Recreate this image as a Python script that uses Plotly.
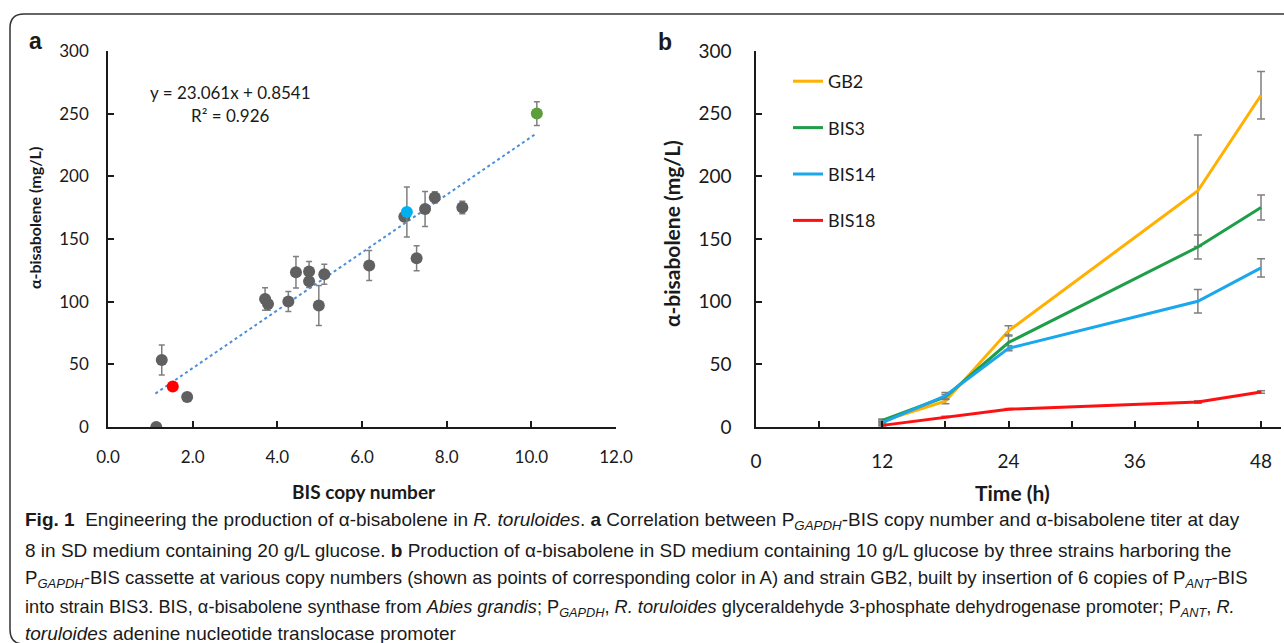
import plotly.graph_objects as go

W, H = 1284, 643

# ---------------- Panel a data ----------------
copy_gray = [1.14, 1.27, 1.87, 3.71, 3.78, 4.26, 4.44, 4.75, 4.75, 4.98, 5.11, 6.17, 7.00, 7.29, 7.49, 7.72, 8.37]
titer_gray = [0, 53.4, 23.9, 102.2, 98.2, 100.1, 123.5, 124.0, 116.3, 96.9, 121.9, 128.8, 167.8, 134.6, 173.9, 183.2, 175.2]
err_gray = [0, 12, 0, 9, 5, 8, 12.5, 8, 5, 16, 8, 12, 3, 10, 14, 4.5, 5]

copy_bis18, titer_bis18, err_bis18 = [1.53], [32.4], [0]
copy_bis14, titer_bis14, err_bis14 = [7.06], [171.5], [20]
copy_bis3, titer_bis3, err_bis3 = [10.13], [250.1], [9.5]

slope, intercept = 23.061, 0.8541
trend_x = [1.12, 10.13]
trend_y = [slope * x + intercept for x in trend_x]

# ---------------- Panel b data ----------------
time_h = [12, 18, 24, 42, 48]
gb2 = [4.8, 20.6, 76.7, 188.5, 264.7]
gb2_err = [1, 2, 4, 44.5, 19]
bis3 = [5.3, 24.0, 67.4, 143.6, 175.1]
bis3_err = [1, 2, 6, 9.5, 10]
bis14 = [3.5, 24.9, 62.8, 100.3, 127.0]
bis14_err = [1, 2.6, 2, 9.4, 7.3]
bis18 = [1.3, 8.0, 14.2, 20.0, 28.0]
bis18_err = [0.5, 0.5, 0.5, 1, 1]

xticks_a = [0, 2, 4, 6, 8, 10, 12]
yticks = [0, 50, 100, 150, 200, 250, 300]
xticks_b = [0, 12, 24, 36, 48]


def px(x):
    return x / W


def py(y):
    return 1 - y / H


GRAY = "#606060"
ERRC = "#7f7f7f"
FAM = "Lato, Open Sans, sans-serif"
TICKFONT_A = dict(family=FAM, size=17, color="#1a1a1a")
TICKFONT_B = dict(family=FAM, size=19, color="#1a1a1a")

fig = go.Figure()

# trendline
fig.add_trace(go.Scatter(x=trend_x, y=trend_y, mode="lines",
                         line=dict(color="#4A8FDA", width=2, dash="dot"),
                         xaxis="x", yaxis="y", showlegend=False, hoverinfo="skip"))


def pts(x, y, e, color):
    return go.Scatter(x=x, y=y, mode="markers",
                      marker=dict(color=color, size=12),
                      error_y=dict(type="data", array=e, color=ERRC, thickness=1.5, width=3),
                      xaxis="x", yaxis="y", showlegend=False)


fig.add_trace(pts(copy_gray, titer_gray, err_gray, GRAY))
fig.add_trace(pts(copy_bis18, titer_bis18, err_bis18, "#FF0000"))
fig.add_trace(pts(copy_bis14, titer_bis14, err_bis14, "#00B0F0"))
fig.add_trace(pts(copy_bis3, titer_bis3, err_bis3, "#5C9E3A"))

series_b = [("GB2", gb2, gb2_err, "#FFB000"),
            ("BIS3", bis3, bis3_err, "#1E9E48"),
            ("BIS14", bis14, bis14_err, "#1AA7EC"),
            ("BIS18", bis18, bis18_err, "#FF1010")]
for name, vals, errs, col in series_b:
    fig.add_trace(go.Scatter(x=time_h, y=vals, mode="lines", name=name, legendgroup=name,
                             line=dict(color=col, width=3),
                             error_y=dict(type="data", array=errs, color=ERRC, thickness=1.5, width=4),
                             xaxis="x2", yaxis="y2"))

axis_common = dict(showgrid=False, zeroline=False, showline=True, linecolor="#1a1a1a",
                   linewidth=1.5, ticks="inside", ticklen=6, tickcolor="#1a1a1a",
                   tickwidth=1.5, automargin=False)

fig.update_layout(
    width=W, height=H,
    margin=dict(l=0, r=0, t=0, b=0, pad=0, autoexpand=False),
    paper_bgcolor="white", plot_bgcolor="white",
    xaxis=dict(domain=[px(108), px(616)], range=[0, 12], tickvals=xticks_a,
               tickformat=".1f", anchor="y", ticklabelstandoff=14, tickfont=TICKFONT_A, **axis_common),
    yaxis=dict(domain=[py(427), py(51)], range=[0, 300], tickvals=yticks,
               anchor="x", ticklabelstandoff=14, tickfont=TICKFONT_A, **axis_common),
    xaxis2=dict(domain=[px(756), px(1281)], range=[0, 49.9], tickvals=xticks_b,
                anchor="y2", ticklabelstandoff=16, tickfont=TICKFONT_B,
                minor=dict(dtick=6, tick0=0, ticks="inside", ticklen=6, tickcolor="#1a1a1a",
                           tickwidth=1.5, showgrid=False),
                **axis_common),
    yaxis2=dict(domain=[py(427), py(51)], range=[0, 300], tickvals=yticks,
                anchor="x2", ticklabelstandoff=19, tickfont=TICKFONT_B, **axis_common),
    legend=dict(x=px(788), y=py(63), xanchor="left", yanchor="top",
                font=dict(family=FAM, size=18, color="#1a1a1a"),
                bgcolor="rgba(0,0,0,0)", tracegroupgap=20, itemwidth=30,
                traceorder="grouped"),
    showlegend=True,
)

ann = []


def A(x, y, text, size=17, bold=False, angle=0, xanchor="center", family=FAM):
    t = f"<b>{text}</b>" if bold else text
    ann.append(dict(x=px(x), y=py(y), xref="paper", yref="paper", text=t, showarrow=False,
                    textangle=angle, xanchor=xanchor, yanchor="middle",
                    font=dict(family=family, size=size, color="#1a1a1a")))


A(35, 41, "a", size=23, bold=True, family="Liberation Sans, Arial, sans-serif")
A(665, 42, "b", size=23, bold=True, family="Liberation Sans, Arial, sans-serif")
A(230, 92, f"y = {slope}x + {intercept}", size=17)
A(230, 115, "R² = 0.926", size=17)
A(34, 218, "α-bisabolene (mg/L)", size=16, bold=True, angle=-90)
A(671, 234, "α-bisabolene (mg/L)", size=21, bold=True, angle=-90)
A(364, 491, "BIS copy number", size=19, bold=True)
A(1012, 492, "Time (h)", size=21, bold=True)

CAP = "Liberation Sans, Arial, sans-serif"
caption_lines = [
    "<b>Fig. 1</b>  Engineering the production of α-bisabolene in <i>R. toruloides</i>. <b>a</b> Correlation between P<sub><i>GAPDH</i></sub>-BIS copy number and α-bisabolene titer at day",
    "8 in SD medium containing 20 g/L glucose. <b>b</b> Production of α-bisabolene in SD medium containing 10 g/L glucose by three strains harboring the",
    "P<sub><i>GAPDH</i></sub>-BIS cassette at various copy numbers (shown as points of corresponding color in A) and strain GB2, built by insertion of 6 copies of P<sub><i>ANT</i></sub>-BIS",
    "into strain BIS3. BIS, α-bisabolene synthase from <i>Abies grandis</i>; P<sub><i>GAPDH</i></sub>, <i>R. toruloides</i> glyceraldehyde 3-phosphate dehydrogenase promoter; P<sub><i>ANT</i></sub>, <i>R.</i>",
    "<i>toruloides</i> adenine nucleotide translocase promoter",
]
cap_y = [521, 550, 579, 608, 633]
cap_size = [19, 19, 18.6, 18.2, 19]
for line, yy, sz in zip(caption_lines, cap_y, cap_size):
    A(23, yy, line, size=sz, xanchor="left", family=CAP)

fig.update_layout(annotations=ann)

# rounded border of the figure frame
fig.add_shape(type="path", xref="paper", yref="paper",
              path=f"M {px(1300)},{py(14)} L {px(24)},{py(14)} Q {px(10)},{py(14)} {px(10)},{py(28)} "
                   f"L {px(10)},{py(630)} Q {px(10)},{py(644)} {px(24)},{py(644)}",
              line=dict(color="#333333", width=1.5))

fig.write_html("out.html", config={"displayModeBar": False},
               post_script="document.body.style.margin='0';")
